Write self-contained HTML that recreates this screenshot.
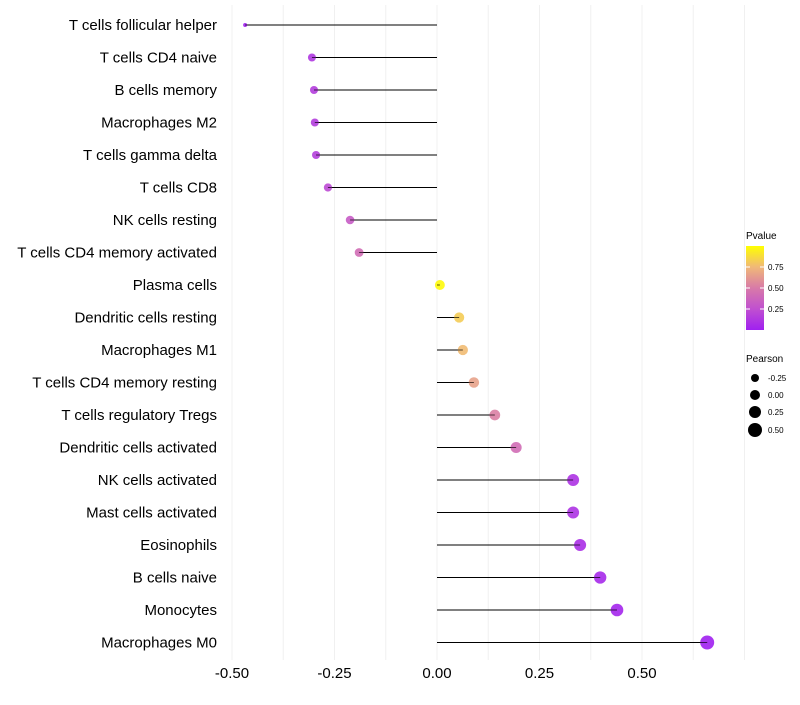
<!DOCTYPE html>
<html><head><meta charset="utf-8"><style>
body{margin:0;background:#fff;font-family:"Liberation Sans",sans-serif}
svg text{font-family:"Liberation Sans",sans-serif}
</style></head><body>
<svg id="chart" width="800" height="700" xmlns="http://www.w3.org/2000/svg">
<defs><linearGradient id="pg" x1="0" y1="1" x2="0" y2="0">
<stop offset="0" stop-color="#a020f0"/><stop offset="0.25" stop-color="#c050d0"/><stop offset="0.5" stop-color="#d87aa8"/><stop offset="0.75" stop-color="#f0b878"/><stop offset="1" stop-color="#ffff00"/></linearGradient></defs>
<g id="grid"></g><g id="marks"></g><g id="labels"></g>
<g>
<text x="746" y="239" font-size="10">Pvalue</text>
<rect x="746" y="246" width="18" height="84" fill="url(#pg)"/>
<line x1="746" x2="750" y1="267" y2="267" stroke="#fff"/><line x1="760" x2="764" y1="267" y2="267" stroke="#fff"/>
<line x1="746" x2="750" y1="288" y2="288" stroke="#fff"/><line x1="760" x2="764" y1="288" y2="288" stroke="#fff"/>
<line x1="746" x2="750" y1="309" y2="309" stroke="#fff"/><line x1="760" x2="764" y1="309" y2="309" stroke="#fff"/>
<text x="768" y="270" font-size="8">0.75</text><text x="768" y="291" font-size="8">0.50</text><text x="768" y="312" font-size="8">0.25</text>
</g>
<g>
<text x="746" y="362" font-size="10">Pearson</text>
<circle cx="755" cy="378" r="4"/><text x="768" y="381" font-size="8">-0.25</text>
<circle cx="755" cy="395" r="5"/><text x="768" y="398" font-size="8">0.00</text>
<circle cx="755" cy="412" r="6"/><text x="768" y="415" font-size="8">0.25</text>
<circle cx="755" cy="430" r="7"/><text x="768" y="433" font-size="8">0.50</text>
</g>
</svg>
<script>
const categories=["T cells follicular helper","T cells CD4 naive","B cells memory","Macrophages M2","T cells gamma delta","T cells CD8","NK cells resting","T cells CD4 memory activated","Plasma cells","Dendritic cells resting","Macrophages M1","T cells CD4 memory resting","T cells regulatory  Tregs","Dendritic cells activated","NK cells activated","Mast cells activated","Eosinophils","B cells naive","Monocytes","Macrophages M0"];
const pearson=[-0.468,-0.305,-0.300,-0.298,-0.295,-0.266,-0.212,-0.190,0.007,0.054,0.063,0.090,0.141,0.193,0.332,0.332,0.349,0.398,0.439,0.659];
const pvalue=[0.01,0.12,0.15,0.15,0.16,0.22,0.32,0.42,0.98,0.82,0.76,0.66,0.52,0.42,0.1,0.1,0.08,0.05,0.03,0.002];
const tickValues=[-0.5,-0.25,0,0.25,0.5];
const tickLabels=["-0.50","-0.25","0.00","0.25","0.50"];
const NS="http://www.w3.org/2000/svg";
const xs=v=>437+v*410;
const ys=i=>25+i*32.5;
const rs=v=>v<-0.305?Math.max(1.8,4+(v+0.305)*12.3):4.95+3.1*v;
const stops=[[0,[160,32,240]],[0.25,[192,80,208]],[0.5,[216,122,168]],[0.75,[240,184,120]],[1,[255,255,0]]];
function col(p){for(let k=1;k<stops.length;k++){if(p<=stops[k][0]){const a=stops[k-1],b=stops[k],t=(p-a[0])/(b[0]-a[0]);return 'rgb('+a[1].map((c,j)=>Math.round(c+(b[1][j]-c)*t)).join(',')+')';}}return 'rgb(255,255,0)';}
function mk(tag,attrs,parent){const e=document.createElementNS(NS,tag);for(const k in attrs)e.setAttribute(k,attrs[k]);parent.appendChild(e);return e;}
const grid=document.getElementById('grid'),marks=document.getElementById('marks'),labels=document.getElementById('labels');
for(let v=-0.5;v<=0.75;v+=0.125){const l=mk('line',{x1:xs(v),x2:xs(v),y1:5,y2:660,stroke:'#f0f0f0','stroke-width':1},grid);

}
tickValues.forEach((v,i)=>{const t=mk('text',{x:xs(v),y:678,'font-size':15,'text-anchor':'middle',fill:'#000'},labels);t.textContent=tickLabels[i];

});
categories.forEach((c,i)=>{const y=ys(i);
const t=mk('text',{x:217,y:y+5,'font-size':15,'text-anchor':'end',fill:'#000'},labels);t.textContent=c;


const s=mk('line',{x1:xs(0),x2:xs(pearson[i]),y1:y,y2:y,stroke:'#000','stroke-width':1},marks);


const d=mk('circle',{cx:xs(pearson[i]),cy:y,r:rs(pearson[i]),fill:col(pvalue[i]),'fill-opacity':0.9},marks);


const s2=mk('line',{x1:xs(0),x2:xs(pearson[i]),y1:y,y2:y,stroke:'#000','stroke-width':1,'stroke-opacity':0.6},marks);


});
</script>
</body></html>
